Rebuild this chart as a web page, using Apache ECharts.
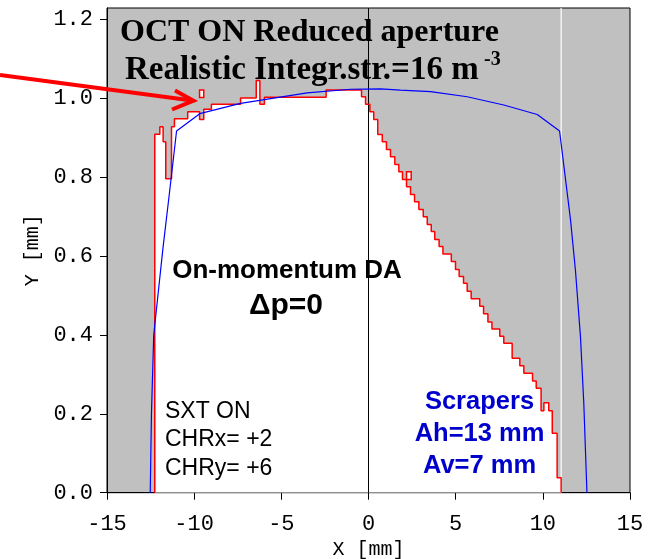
<!DOCTYPE html>
<html>
<head>
<meta charset="utf-8">
<script src="https://cdn.jsdelivr.net/npm/echarts@6/dist/echarts.min.js"></script>
<style>
  html, body { margin: 0; padding: 0; background: #ffffff; }
  #chart { width: 650px; height: 559px; }
</style>
</head>
<body>
<div id="chart"></div>
<script>
// On-momentum dynamic aperture boundary (stair steps).
// daEdges: X [mm] where each step starts/ends; daLevels: Y [mm] on each interval.
const daEdges = [
  -12.26, -11.97, -11.78, -11.63, -11.30, -11.13, -10.37, -9.69, -9.45, -9.01,
  -7.34, -6.44, -6.23, -5.97, -2.43, -0.40, -0.17, 0.08, 0.30, 0.53,
  0.79, 1.03, 1.26, 1.51, 1.74, 1.95, 2.18, 2.41, 2.64, 2.89,
  3.14, 3.37, 3.60, 3.80, 4.05, 4.27, 4.75, 4.99, 5.20, 5.45,
  5.66, 5.89, 6.38, 6.60, 6.85, 7.08, 7.53, 7.76, 8.24, 8.68,
  8.91, 9.41, 9.62, 9.90, 10.06, 10.34, 10.54, 10.82, 11.05
];
const daLevels = [
  0.909, 0.928, 0.890, 0.796, 0.928, 0.948, 0.966, 0.946, 0.972, 0.985,
  1.001, 1.045, 0.985, 1.003, 1.021, 1.004, 0.985, 0.966, 0.946, 0.908,
  0.890, 0.870, 0.852, 0.832, 0.814, 0.794, 0.776, 0.756, 0.738, 0.718,
  0.700, 0.680, 0.662, 0.642, 0.624, 0.605, 0.586, 0.566, 0.548, 0.531,
  0.511, 0.492, 0.473, 0.454, 0.433, 0.415, 0.397, 0.379, 0.341, 0.322,
  0.303, 0.283, 0.265, 0.208, 0.228, 0.208, 0.151, 0.038
];
// Isolated surviving cells: [x0, x1, y0, y1]
const islandCells = [
  [-9.69, -9.45, 1.002, 1.021],
  [2.18, 2.45, 0.794, 0.814]
];
// Aperture curve
const apX = [-12.52, -12.45, -12.32, -11.79, -11.40, -11.01, -9.68, -7.34, -3.52, -1.03,
             0.69, 1.84, 3.56, 5.66, 7.76, 9.68, 10.96, 11.59, 11.87, 12.16, 12.35, 12.53];
const apY = [0.000, 0.200, 0.400, 0.620, 0.767, 0.917, 0.961, 0.987, 1.014, 1.023,
             1.024, 1.021, 1.017, 1.004, 0.983, 0.959, 0.917, 0.691, 0.564, 0.395, 0.227, 0.000];
// Vertical reference lines
const xCentre = 0;
const xScraper = 11.05;
// Axes
const xTicks = [-15, -10, -5, 0, 5, 10, 15];
const yTicks = [0, 0.2, 0.4, 0.6, 0.8, 1.0, 1.2];
const yTop = 1.229;

// Corner points of the stair outline
const daPoints = [[daEdges[0], 0]];
for (let i = 0; i < daLevels.length; i++) {
  daPoints.push([daEdges[i], daLevels[i]]);
  daPoints.push([daEdges[i + 1], daLevels[i]]);
}
daPoints.push([daEdges[daEdges.length - 1], 0]);

const apPoints = apX.map((x, i) => [x, apY[i]]);

const mono = 'Liberation Mono';
const chart = echarts.init(document.getElementById('chart'), null, { renderer: 'canvas' });

chart.setOption({
  animation: false,
  backgroundColor: '#ffffff',
  grid: {
    left: 107, right: 20, top: 8, bottom: 66.3,
    containLabel: false, outerBoundsMode: 'none',
    show: true, backgroundColor: '#c0c0c0', borderColor: '#000000', borderWidth: 1
  },
  xAxis: {
    type: 'value', min: -15, max: 15, interval: 5,
    name: 'X [mm]', nameLocation: 'middle', nameGap: 45,
    nameTextStyle: { fontFamily: mono, fontSize: 20, color: '#000' },
    axisLine: { show: true, onZero: false, lineStyle: { color: '#000', width: 1 } },
    axisTick: { show: true, inside: false, length: 7, customValues: xTicks, lineStyle: { color: '#000' } },
    axisLabel: { fontFamily: mono, fontSize: 22, color: '#000', margin: 20, customValues: xTicks },
    splitLine: { show: false }
  },
  yAxis: {
    type: 'value', min: 0, max: yTop,
    name: 'Y [mm]', nameLocation: 'middle', nameGap: 64, nameRotate: 90,
    nameTextStyle: { fontFamily: mono, fontSize: 20, color: '#000' },
    axisLine: { show: true, onZero: false, lineStyle: { color: '#000', width: 1 } },
    axisTick: { show: true, inside: false, length: 7, customValues: yTicks, lineStyle: { color: '#000' } },
    axisLabel: {
      fontFamily: mono, fontSize: 22, color: '#000', margin: 14,
      customValues: yTicks, formatter: v => v.toFixed(1)
    },
    splitLine: { show: false }
  },
  series: [
    {
      // stable region fill
      type: 'line', data: daPoints, symbol: 'none', silent: true,
      lineStyle: { width: 0, opacity: 0 },
      areaStyle: { color: '#ffffff', opacity: 1, origin: 'start' },
      z: 1
    },
    {
      type: 'line', data: [[xCentre, 0], [xCentre, yTop]], symbol: 'none', silent: true,
      lineStyle: { color: '#000000', width: 1 }, z: 2
    },
    {
      type: 'line', data: [[xScraper, 0], [xScraper, yTop]], symbol: 'none', silent: true,
      lineStyle: { color: '#ffffff', width: 1.2 }, z: 2
    },
    {
      type: 'line', data: daPoints, symbol: 'none', silent: true,
      lineStyle: { color: '#ff0000', width: 1.5 }, z: 3
    },
    {
      type: 'custom', data: islandCells, silent: true, z: 3,
      encode: { x: [0, 1], y: [2, 3] },
      renderItem: function (params, api) {
        const a = api.coord([api.value(0), api.value(3)]);
        const b = api.coord([api.value(1), api.value(2)]);
        return {
          type: 'rect',
          shape: { x: a[0], y: a[1], width: b[0] - a[0], height: b[1] - a[1] },
          style: { fill: '#ffffff', stroke: '#ff0000', lineWidth: 1.5 }
        };
      }
    },
    {
      type: 'line', data: apPoints, symbol: 'none', silent: true,
      lineStyle: { color: '#0000ff', width: 1.2 }, z: 4
    }
  ],
  graphic: [
    {
      type: 'polyline', z: 20, silent: true,
      shape: { points: [[0, 75], [192, 100.5]] },
      style: { stroke: '#ff0000', lineWidth: 4, fill: null }
    },
    {
      type: 'polyline', z: 20, silent: true,
      shape: { points: [[175, 90.5], [193.5, 100.7], [172, 109.5]] },
      style: { stroke: '#ff0000', lineWidth: 4, fill: null, lineJoin: 'miter' }
    },
    {
      type: 'text', z: 20, silent: true, x: 120, y: 32.5,
      style: { text: 'OCT ON Reduced aperture', font: 'bold 32px "Liberation Serif"', fill: '#000',
               align: 'left', verticalAlign: 'middle' }
    },
    {
      type: 'text', z: 20, silent: true, x: 125, y: 70,
      style: { text: 'Realistic Integr.str.=16 m', font: 'bold 33px "Liberation Serif"', fill: '#000',
               align: 'left', verticalAlign: 'middle' }
    },
    {
      type: 'text', z: 20, silent: true, x: 484, y: 60,
      style: { text: '-3', font: 'bold 20px "Liberation Serif"', fill: '#000',
               align: 'left', verticalAlign: 'middle' }
    },
    {
      type: 'text', z: 20, silent: true, x: 287, y: 271,
      style: { text: 'On-momentum DA', font: 'bold 26px "Liberation Sans"', fill: '#000',
               align: 'center', verticalAlign: 'middle' }
    },
    {
      type: 'text', z: 20, silent: true, x: 286, y: 306,
      style: { text: '\u0394p=0', font: 'bold 30px "Liberation Sans"', fill: '#000',
               align: 'center', verticalAlign: 'middle' }
    },
    {
      type: 'text', z: 20, silent: true, x: 165, y: 411.5,
      style: { text: 'SXT ON', font: '23px "Liberation Sans"', fill: '#000',
               align: 'left', verticalAlign: 'middle' }
    },
    {
      type: 'text', z: 20, silent: true, x: 165, y: 440,
      style: { text: 'CHRx= +2', font: '23px "Liberation Sans"', fill: '#000',
               align: 'left', verticalAlign: 'middle' }
    },
    {
      type: 'text', z: 20, silent: true, x: 165, y: 468.5,
      style: { text: 'CHRy= +6', font: '23px "Liberation Sans"', fill: '#000',
               align: 'left', verticalAlign: 'middle' }
    },
    {
      type: 'text', z: 20, silent: true, x: 479.5, y: 402,
      style: { text: 'Scrapers', font: 'bold 25.5px "Liberation Sans"', fill: '#0000cc',
               align: 'center', verticalAlign: 'middle' }
    },
    {
      type: 'text', z: 20, silent: true, x: 479.5, y: 434,
      style: { text: 'Ah=13 mm', font: 'bold 25.5px "Liberation Sans"', fill: '#0000cc',
               align: 'center', verticalAlign: 'middle' }
    },
    {
      type: 'text', z: 20, silent: true, x: 479.5, y: 465.5,
      style: { text: 'Av=7 mm', font: 'bold 25.5px "Liberation Sans"', fill: '#0000cc',
               align: 'center', verticalAlign: 'middle' }
    }
  ]
});
</script>
</body>
</html>
